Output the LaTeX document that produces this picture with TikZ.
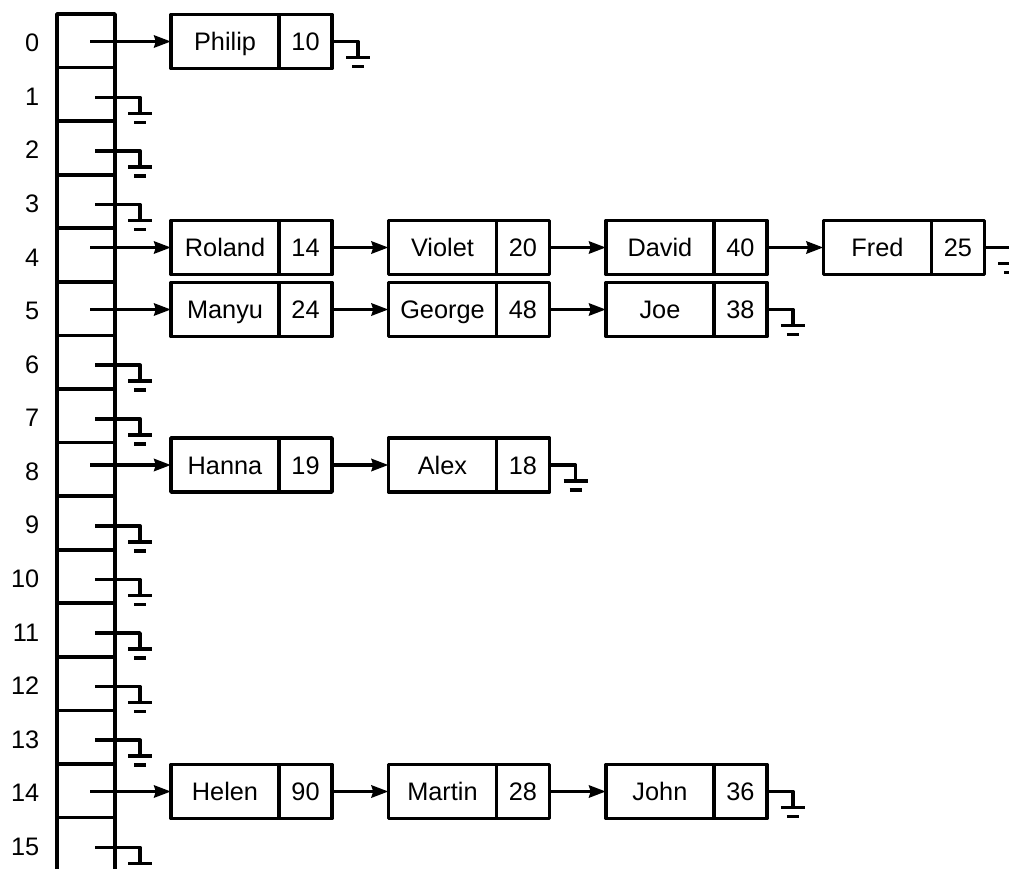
\documentclass[tikz,border=0pt]{standalone}
\usepackage{fontspec}
\setmainfont{Liberation Sans}
\usetikzlibrary{positioning,arrows.meta}

\begin{document}
\begin{tikzpicture}[x=0.025cm,y=-0.025cm,line width=2.6pt,line join=round,
                    font=\fontsize{18}{20}\selectfont,
                    ptr/.style={-{Stealth[length=0.42cm,width=0.3cm,inset=0.04cm]}},
                    cell/.style={draw,minimum width=1.45cm,minimum height=1.339cm,
                                 inner sep=0pt,outer sep=0pt},
                    namebox/.style={draw,minimum width=2.7cm,minimum height=1.35cm,
                                    inner sep=0pt,outer sep=0pt,text height=12.8pt,text depth=0pt},
                    agebox/.style={namebox,minimum width=1.325cm},
                    pics/gnd/.style={code={
                        \draw (0,0) -- (#1,0) -- (#1,16);
                        \draw (#1-12,16) -- (#1+12,16);
                        \draw (#1-6,25) -- (#1+6,25);}}]
    \useasboundingbox (0,0) rectangle (1009,869);
    \clip (0,0) rectangle (1009,869);

    % hash table
    \foreach \i in {0,...,15} {
        \node[cell] (c\i) at ({86},{14+53.57*(\i+0.5)}) {};
        \node[anchor=east,text height=12.8pt,text depth=0pt,inner sep=0pt]
            (lbl\i) at ({41},{16+53.57*(\i+0.5)}) {\i};
    }
    \foreach \i in {1,2,3,6,7,9,10,11,12,13,15}
        \path ([xshift=0.225cm,yshift=-0.075cm]c\i.center) pic {gnd=45};

    % bucket 0
    \node[namebox,anchor=west] (philip) at (171,41.5) {Philip};
    \node[agebox,right=0pt of philip] (philip-a) {10};

    % bucket 4
    \node[namebox,anchor=west] (roland) at (171,247.5) {Roland};
    \node[agebox,right=0pt of roland] (roland-a) {14};
    \node[namebox,right=1.41cm of roland-a] (violet) {Violet};
    \node[agebox,right=0pt of violet] (violet-a) {20};
    \node[namebox,right=1.41cm of violet-a] (david) {David};
    \node[agebox,right=0pt of david] (david-a) {40};
    \node[namebox,right=1.41cm of david-a] (fred) {Fred};
    \node[agebox,right=0pt of fred] (fred-a) {25};

    % bucket 5
    \node[namebox,anchor=west] (manyu) at (171,309.5) {Manyu};
    \node[agebox,right=0pt of manyu] (manyu-a) {24};
    \node[namebox,right=1.41cm of manyu-a] (george) {George};
    \node[agebox,right=0pt of george] (george-a) {48};
    \node[namebox,right=1.41cm of george-a] (joe) {Joe};
    \node[agebox,right=0pt of joe] (joe-a) {38};

    % bucket 8
    \node[namebox,anchor=west] (hanna) at (171,465) {Hanna};
    \node[agebox,right=0pt of hanna] (hanna-a) {19};
    \node[namebox,right=1.41cm of hanna-a] (alex) {Alex};
    \node[agebox,right=0pt of alex] (alex-a) {18};

    % bucket 14
    \node[namebox,anchor=west] (helen) at (171,791.5) {Helen};
    \node[agebox,right=0pt of helen] (helen-a) {90};
    \node[namebox,right=1.41cm of helen-a] (martin) {Martin};
    \node[agebox,right=0pt of martin] (martin-a) {28};
    \node[namebox,right=1.41cm of martin-a] (john) {John};
    \node[agebox,right=0pt of john] (john-a) {36};

    \draw[ptr] ([xshift=0.1cm]c0.center |- philip.west) -- (philip.west);
    \draw[ptr] ([xshift=0.1cm]c4.center |- roland.west) -- (roland.west);
    \draw[ptr] ([xshift=0.1cm]c5.center |- manyu.west) -- (manyu.west);
    \draw[ptr] ([xshift=0.1cm]c8.center |- hanna.west) -- (hanna.west);
    \draw[ptr] ([xshift=0.1cm]c14.center |- helen.west) -- (helen.west);

    \draw[ptr] (roland-a.east) -- (violet.west);
    \draw[ptr] (violet-a.east) -- (david.west);
    \draw[ptr] (david-a.east) -- (fred.west);
    \draw[ptr] (manyu-a.east) -- (george.west);
    \draw[ptr] (george-a.east) -- (joe.west);
    \draw[ptr] (hanna-a.east) -- (alex.west);
    \draw[ptr] (helen-a.east) -- (martin.west);
    \draw[ptr] (martin-a.east) -- (john.west);

    \foreach \n in {philip,fred,joe,alex,john}
        \path (\n-a.east) pic {gnd=26};
\end{tikzpicture}
\end{document}
